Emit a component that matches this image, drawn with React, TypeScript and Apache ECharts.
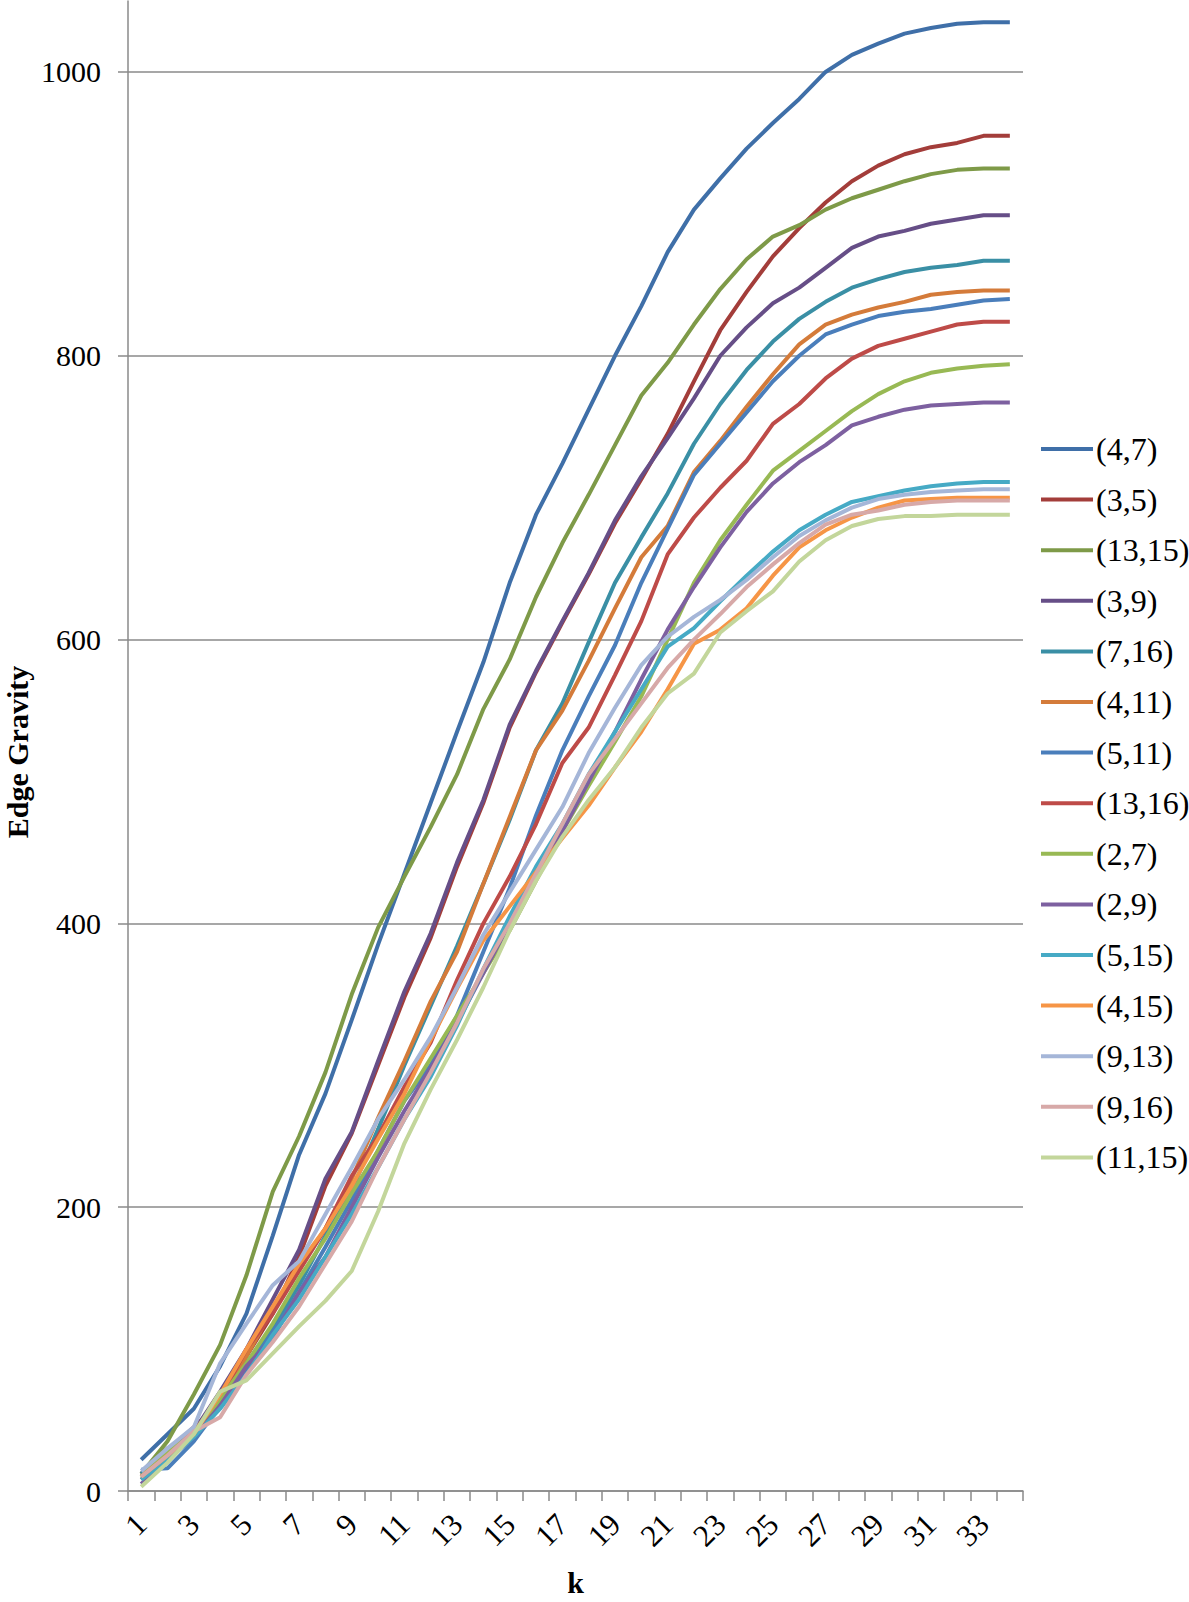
import React, { useEffect, useRef } from "react";
import * as echarts from "echarts";

const kValues = ["1","2","3","4","5","6","7","8","9","10","11","12","13","14","15","16","17","18","19","20","21","22","23","24","25","26","27","28","29","30","31","32","33","34"];
const yTicks = [0, 200, 400, 600, 800, 1000];

const s4_7 = [22,40,58,88,125,180,237,280,332,385,435,485,535,584,640,688,724,762,800,835,873,903,925,946,964,981,1000,1012,1020,1027,1031,1034,1035,1035];
const s3_5 = [10,28,45,62,95,125,165,215,252,300,348,390,440,485,538,577,612,646,682,713,745,782,818,845,870,890,908,923,934,942,947,950,955,955];
const s13_15 = [12,35,68,103,152,211,250,295,350,397,433,468,505,551,586,630,668,702,737,772,795,822,847,868,884,892,903,911,917,923,928,931,932,932];
const s3_9 = [12,30,42,70,100,135,170,220,253,303,352,393,443,487,540,578,613,647,684,715,742,770,800,820,837,848,862,876,884,888,893,896,899,899];
const s7_16 = [12,25,40,62,90,115,145,180,212,255,300,342,384,428,473,522,555,598,640,672,703,738,766,790,810,826,838,848,854,859,862,864,867,867];
const s4_11 = [10,25,42,65,95,128,158,185,220,263,303,345,380,428,475,522,550,585,622,658,680,718,740,764,787,808,822,829,834,838,843,845,846,846];
const s5_11 = [15,16,35,60,85,112,140,172,205,240,275,300,335,380,425,476,522,560,596,640,678,716,738,760,782,800,815,822,828,831,833,836,839,840];
const s13_16 = [8,25,40,65,100,125,155,185,222,250,285,316,360,400,433,470,513,538,575,613,660,686,707,726,752,766,784,798,807,812,817,822,824,824];
const s2_7 = [10,28,40,65,90,118,150,178,210,240,275,305,335,365,395,430,465,497,528,560,600,640,670,695,719,733,747,761,773,782,788,791,793,794];
const s2_9 = [5,22,38,60,88,108,140,165,200,235,268,298,330,365,400,432,465,500,535,572,607,637,665,690,710,725,737,751,757,762,765,766,767,767];
const s5_15 = [8,22,38,58,82,110,135,165,195,228,262,292,328,368,405,440,470,505,535,565,595,608,627,645,662,677,688,697,701,705,708,710,711,711];
const s4_15 = [10,25,40,68,100,130,160,185,215,248,280,318,354,388,412,436,460,483,510,535,565,597,607,622,645,665,677,686,693,698,699,700,700,700];
const s9_13 = [14,30,45,90,118,145,162,195,228,262,290,320,355,392,422,452,482,520,552,582,602,616,628,642,658,673,684,693,699,702,704,705,706,706];
const s9_16 = [10,25,42,52,82,105,130,160,190,228,262,295,330,368,400,435,470,505,530,555,580,600,618,637,653,668,681,688,691,695,697,698,698,698];
const s11_15 = [3,20,40,70,78,97,116,134,155,197,245,283,318,355,395,430,461,487,510,538,562,576,605,620,634,655,670,680,685,687,687,688,688,688];

const seriesNames = ["(4,7)","(3,5)","(13,15)","(3,9)","(7,16)","(4,11)","(5,11)","(13,16)","(2,7)","(2,9)","(5,15)","(4,15)","(9,13)","(9,16)","(11,15)"];
const seriesData = [s4_7, s3_5, s13_15, s3_9, s7_16, s4_11, s5_11, s13_16, s2_7, s2_9, s5_15, s4_15, s9_13, s9_16, s11_15];
const seriesColors = ["#3F6FA8","#A33D3A","#7E9A48","#664E87","#3A8FA5","#D47B3A","#4A7EBB","#BE4B48","#98B954","#7D60A0","#46AAC5","#F69546","#A5B6D8","#D7A9A8","#C3D69B"];

const FONT = "'Liberation Serif', 'Times New Roman', serif";

export default function App() {
  const ref = useRef<HTMLDivElement>(null);
  useEffect(() => {
    const chart = echarts.init(ref.current!, null, { renderer: "svg" });
    chart.setOption({
      animation: false,
      backgroundColor: "#ffffff",
      textStyle: { fontFamily: FONT, color: "#000" },
      grid: { left: 128, right: 166, top: 1, bottom: 104, containLabel: false },
      graphic: [
        {
          type: "text",
          x: 17,
          y: 752,
          rotation: Math.PI / 2,
          style: {
            text: "Edge Gravity",
            font: "bold 30px 'Liberation Serif', 'Times New Roman', serif",
            fill: "#000",
            textAlign: "center",
            textVerticalAlign: "middle",
          },
        },
      ],
      legend: {
        orient: "vertical",
        left: 1036,
        top: 428,
        icon: "rect",
        itemWidth: 52,
        itemHeight: 4,
        itemGap: 18.6,
        data: seriesNames,
        textStyle: { fontFamily: FONT, fontSize: 32, lineHeight: 32, color: "#000", padding: [0, 0, 0, -2] },
      },
      xAxis: {
        type: "category",
        data: kValues,
        boundaryGap: true,
        name: "k",
        nameLocation: "middle",
        nameGap: 76,
        nameTextStyle: { fontFamily: FONT, fontSize: 30, fontWeight: "bold", color: "#000" },
        axisLine: { lineStyle: { color: "#8a8a8a", width: 1.5 } },
        axisTick: { show: true, interval: 0, length: 10, lineStyle: { color: "#8a8a8a", width: 1.5 } },
        axisLabel: { interval: 1, rotate: 45, margin: 28, fontFamily: FONT, fontSize: 31, color: "#000" },
        splitLine: { show: false },
      },
      yAxis: {
        type: "value",
        min: 0,
        max: 1050,
        interval: 200,
        axisLine: { show: true, lineStyle: { color: "#8a8a8a", width: 1.5 } },
        axisTick: { show: true, length: 10, customValues: yTicks, lineStyle: { color: "#8a8a8a", width: 1.5 } },
        axisLabel: {
          customValues: yTicks,
          margin: 27,
          fontFamily: FONT,
          fontSize: 30,
          color: "#000",
          formatter: (v: number) => String(v),
        },
        splitLine: { show: true, lineStyle: { color: "#8a8a8a", width: 1.5 } },
      },
      series: seriesNames.map((name, i) => ({
        name,
        type: "line",
        data: seriesData[i],
        symbol: "none",
        color: seriesColors[i],
        lineStyle: { color: seriesColors[i], width: 4 },
      })),
    });
    return () => chart.dispose();
  }, []);
  return (
    <div
      ref={ref}
      style={{ position: "absolute", left: 0, top: 0, width: 1189, height: 1602, background: "#fff" }}
    />
  );
}
